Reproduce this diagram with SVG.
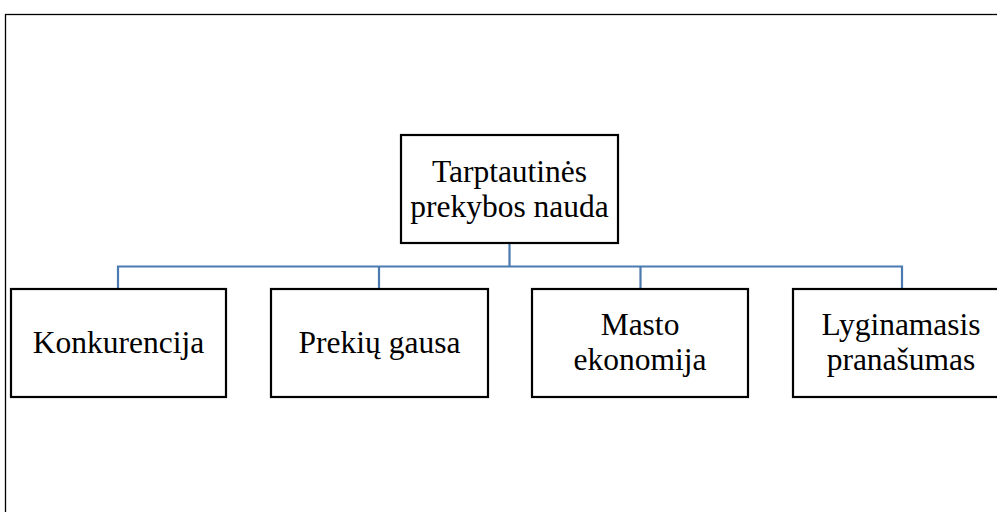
<svg xmlns="http://www.w3.org/2000/svg" width="997" height="512" viewBox="0 0 997 512">
<style>
.box{fill:#fff;stroke:#000;stroke-width:2.2}
.t{font-family:"Liberation Serif","Times New Roman",serif;font-size:31.5px;fill:#000;text-anchor:middle}
.c{fill:none;stroke:#4a7ab0;stroke-width:2.2}
</style>
<rect x="0" y="0" width="997" height="512" fill="#fff"/>
<rect x="5.5" y="14.5" width="1000" height="520" fill="none" stroke="#000" stroke-width="1.3"/>
<g id="connectors">
<path class="c" d="M509.5 243 V266.5 M118 289 V266.5 H902 V289 M379 266.5 V289 M640.5 266.5 V289"/>
</g>
<g id="root">
<rect class="box" x="401" y="135" width="217" height="108"/>
<text class="t" x="509.5" y="182">Tarptautinės</text>
<text class="t" x="509.5" y="217">prekybos nauda</text>
</g>
<g id="konkurencija">
<rect class="box" x="11" y="289" width="215" height="108"/>
<text class="t" x="118.5" y="353">Konkurencija</text>
</g>
<g id="prekiu-gausa">
<rect class="box" x="271" y="289" width="217" height="108"/>
<text class="t" x="379.5" y="353">Prekių gausa</text>
</g>
<g id="masto-ekonomija">
<rect class="box" x="532" y="289" width="216" height="108"/>
<text class="t" x="640" y="335">Masto</text>
<text class="t" x="640" y="370">ekonomija</text>
</g>
<g id="lyginamasis">
<rect class="box" x="793" y="289" width="218" height="108"/>
<text class="t" x="901" y="335">Lyginamasis</text>
<text class="t" x="901" y="370">pranašumas</text>
</g>
</svg>
